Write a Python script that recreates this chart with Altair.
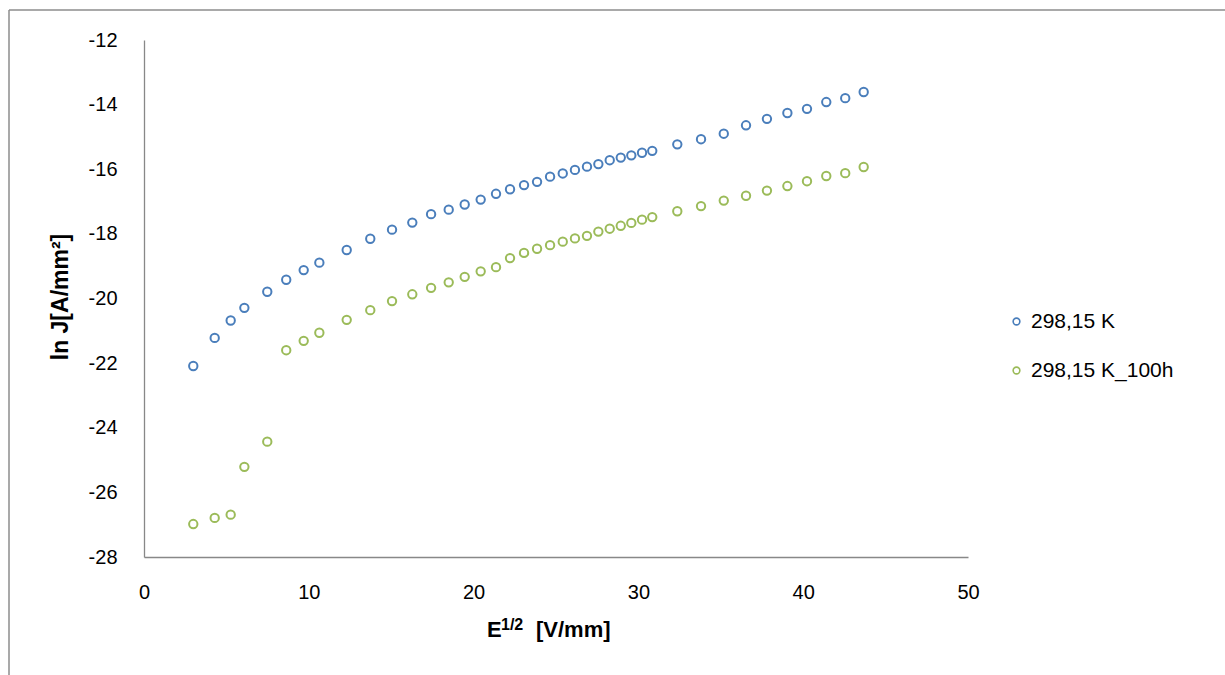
import altair as alt
import pandas as pd

x_vals = [2.99, 4.29, 5.26, 6.09, 7.48, 8.63, 9.69, 10.64, 12.30, 13.73, 15.05, 16.28,
          17.42, 18.49, 19.46, 20.43, 21.36, 22.21, 23.06, 23.85, 24.64, 25.41, 26.15,
          26.88, 27.57, 28.26, 28.93, 29.57, 30.22, 30.84, 32.36, 33.80, 35.18, 36.53,
          37.80, 39.04, 40.23, 41.40, 42.55, 43.67]
y_298 = [-22.09, -21.22, -20.68, -20.29, -19.79, -19.42, -19.12, -18.89, -18.50, -18.15,
         -17.87, -17.65, -17.39, -17.25, -17.09, -16.94, -16.76, -16.62, -16.49, -16.39,
         -16.23, -16.13, -16.02, -15.92, -15.84, -15.72, -15.64, -15.57, -15.49, -15.43,
         -15.23, -15.07, -14.90, -14.64, -14.44, -14.26, -14.13, -13.92, -13.80, -13.61]
y_298_100h = [-26.98, -26.79, -26.69, -25.21, -24.43, -21.60, -21.31, -21.06, -20.66, -20.36,
              -20.08, -19.87, -19.67, -19.50, -19.33, -19.16, -19.03, -18.75, -18.59, -18.46,
              -18.35, -18.24, -18.14, -18.06, -17.93, -17.84, -17.75, -17.66, -17.56, -17.48,
              -17.30, -17.14, -16.97, -16.82, -16.66, -16.52, -16.37, -16.21, -16.12, -15.93]
series_names = ["298,15 K", "298,15 K_100h"]
series_colors = ["#4A7EBB", "#9BBB59"]
x_ticks = [0, 10, 20, 30, 40, 50]
y_ticks = [-12, -14, -16, -18, -20, -22, -24, -26, -28]

rows = []
for xv, yv in zip(x_vals, y_298):
    rows.append({"x": xv, "y": yv, "s": series_names[0]})
for xv, yv in zip(x_vals, y_298_100h):
    rows.append({"x": xv, "y": yv, "s": series_names[1]})
df = pd.DataFrame(rows)

FONT = "Liberation Sans"
W, H = 824, 517

points = alt.Chart(df).mark_point(shape="circle", filled=False, size=70, strokeWidth=2, opacity=1).encode(
    x=alt.X("x:Q", scale=alt.Scale(domain=[0, 50], nice=False),
            axis=alt.Axis(values=x_ticks, title=None, grid=False, ticks=False,
                          domainColor="#888888", domainWidth=1.3, labelFlush=False,
                          labelExpr="toString(datum.value)",
                          labelFont=FONT, labelFontSize=20, labelColor="#000000",
                          labelPadding=25)),
    y=alt.Y("y:Q", scale=alt.Scale(domain=[-28, -12], nice=False, zero=False),
            axis=alt.Axis(values=y_ticks, title=None, grid=False, ticks=False,
                          domainColor="#888888", domainWidth=1.3, labelFlush=False,
                          labelExpr="toString(datum.value)",
                          labelFont=FONT, labelFontSize=20, labelColor="#000000",
                          labelPadding=27)),
    color=alt.Color("s:N", scale=alt.Scale(domain=series_names, range=series_colors),
                    legend=alt.Legend(title=None, orient="none", legendX=862, legendY=271,
                                      labelFont=FONT, labelFontSize=21, labelColor="#000000",
                                      symbolType="circle", symbolSize=45, symbolStrokeWidth=1.6,
                                      symbolFillColor="transparent",
                                      rowPadding=27, labelOffset=4, padding=0)),
)

border = alt.Chart(pd.DataFrame({"a": [0]})).mark_rule(color="#8c8c8c", strokeWidth=1.5)
top_border = border.encode(x=alt.value(-135), x2=alt.value(1090), y=alt.value(-30))
left_border = border.encode(x=alt.value(-135), y=alt.value(-30), y2=alt.value(640))

txt = alt.Chart(pd.DataFrame({"a": [0]}))
y_title = txt.mark_text(text="ln J[A/mm²]", font=FONT, fontSize=23, fontWeight="bold",
                        angle=270, align="center", baseline="middle", color="#000000").encode(
    x=alt.value(-83), y=alt.value(257))
x_title_e = txt.mark_text(text="E", font=FONT, fontSize=22, fontWeight="bold",
                          align="left", baseline="alphabetic", color="#000000").encode(
    x=alt.value(343), y=alt.value(597))
x_title_sup = txt.mark_text(text="1/2", font=FONT, fontSize=16, fontWeight="bold",
                            align="left", baseline="alphabetic", color="#000000").encode(
    x=alt.value(357), y=alt.value(590))
x_title_rest = txt.mark_text(text="[V/mm]", font=FONT, fontSize=22, fontWeight="bold",
                             align="left", baseline="alphabetic", color="#000000").encode(
    x=alt.value(392), y=alt.value(597))

chart = alt.layer(points, top_border, left_border, y_title, x_title_e, x_title_sup, x_title_rest).properties(
    width=W, height=H,
    autosize=alt.AutoSizeParams(type="none"),
    padding={"left": 144, "top": 40, "right": 257, "bottom": 118},
    background="white",
).configure_view(strokeWidth=0, stroke="transparent")

chart.save("out.html", embed_options={"renderer": "svg", "actions": False})
